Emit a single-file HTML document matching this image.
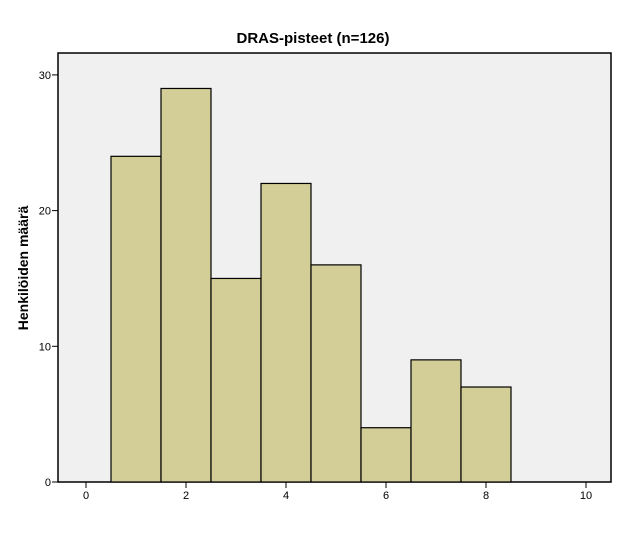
<!DOCTYPE html>
<html><head><meta charset="utf-8"><style>
body{margin:0;background:#fff;font-family:"Liberation Sans",sans-serif}
</style></head><body>
<svg width="626" height="541" xmlns="http://www.w3.org/2000/svg">
<rect x="0" y="0" width="626" height="541" fill="#fff"/>
<text x="313" y="43" text-anchor="middle" font-size="15" font-weight="bold" font-family="Liberation Sans, sans-serif">DRAS-pisteet (n=126)</text>
<rect x="58" y="53" width="553" height="429" fill="#f0f0f0" stroke="#000" stroke-width="1.5"/>
<g id="bars"></g>
<g id="axes"></g>
<text transform="translate(28,268) rotate(-90)" text-anchor="middle" font-size="14" font-weight="bold" font-family="Liberation Sans, sans-serif">Henkilöiden määrä</text>
</svg>
<script>
const binCenters=[1,2,3,4,5,6,7,8];
const counts=[24,29,15,22,16,4,9,7];
const xTicks=[0,2,4,6,8,10];
const yTicks=[0,10,20,30];
const NS="http://www.w3.org/2000/svg";
function xs(v){return 86+v*50;}
function ys(v){return 482-v*13.57;}
const bars=document.getElementById('bars');
binCenters.forEach((c,i)=>{
  const r=document.createElementNS(NS,'rect');
  r.setAttribute('x',xs(c-0.5));r.setAttribute('width',xs(c+0.5)-xs(c-0.5));
  r.setAttribute('y',ys(counts[i]));r.setAttribute('height',ys(0)-ys(counts[i]));
  r.setAttribute('fill','#d3ce98');r.setAttribute('stroke','#000');r.setAttribute('stroke-width','1.2');
  
  
  bars.appendChild(r);
});
const ax=document.getElementById('axes');
xTicks.forEach(t=>{
  const l=document.createElementNS(NS,'line');
  l.setAttribute('x1',xs(t));l.setAttribute('x2',xs(t));l.setAttribute('y1',482);l.setAttribute('y2',488);l.setAttribute('stroke','#000');
  
  
  ax.appendChild(l);
  const tx=document.createElementNS(NS,'text');
  tx.setAttribute('x',xs(t));tx.setAttribute('y',499);tx.setAttribute('text-anchor','middle');tx.setAttribute('font-size','11');
  tx.textContent=t;
  
  
  ax.appendChild(tx);
});
yTicks.forEach(t=>{
  const l=document.createElementNS(NS,'line');
  l.setAttribute('x1',52);l.setAttribute('x2',58);l.setAttribute('y1',ys(t));l.setAttribute('y2',ys(t));l.setAttribute('stroke','#000');
  
  
  ax.appendChild(l);
  const tx=document.createElementNS(NS,'text');
  tx.setAttribute('x',51);tx.setAttribute('y',ys(t)+4);tx.setAttribute('text-anchor','end');tx.setAttribute('font-size','11');
  tx.textContent=t;
  
  
  ax.appendChild(tx);
});
</script>
</body></html>
